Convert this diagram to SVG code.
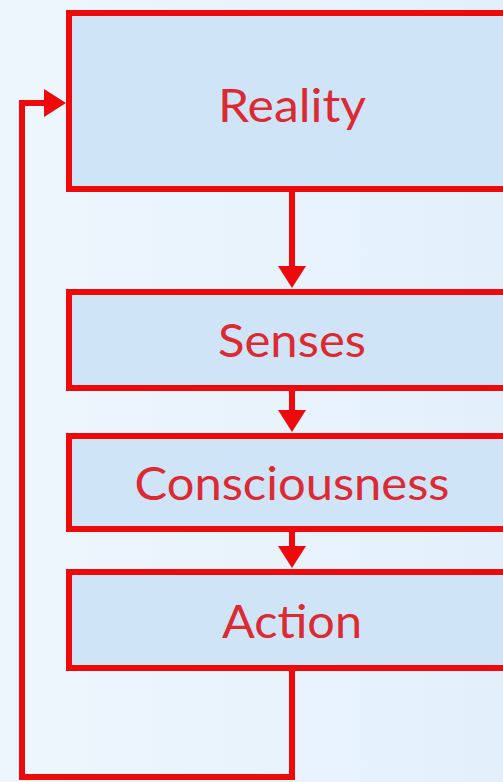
<svg xmlns="http://www.w3.org/2000/svg" width="503" height="782" viewBox="0 0 503 782">
  <style>
    .box { fill: #d0e4f7; stroke: #ee0a0a; stroke-width: 6; }
    .lbl { font-family: Lato, "Liberation Sans", Arial, sans-serif; font-size: 46px; fill: #dc2a33; text-anchor: middle; }
    .conn { fill: none; stroke: #ee0a0a; stroke-width: 6; stroke-linejoin: miter; }
  </style>
  <defs>
    <linearGradient id="bg" x1="0" y1="0" x2="1" y2="0">
      <stop offset="0" stop-color="#eef6fd"/>
      <stop offset="1" stop-color="#e3f0fb"/>
    </linearGradient>
    <marker id="ah" markerUnits="userSpaceOnUse" markerWidth="24" markerHeight="30" refX="0" refY="14" orient="auto" viewBox="0 0 24 30">
      <path d="M0,0 L22,14 L0,28 Z" fill="#ee0a0a"/>
    </marker>
  </defs>
  <rect x="0" y="0" width="503" height="782" fill="url(#bg)"/>

  <g id="reality">
    <rect class="box" x="69" y="13" width="460" height="176"/>
    <text class="lbl" x="292" y="122" textLength="148" lengthAdjust="spacingAndGlyphs">Reality</text>
  </g>
  <g id="senses">
    <rect class="box" x="69" y="292" width="460" height="96"/>
    <text class="lbl" x="292" y="357" textLength="148" lengthAdjust="spacingAndGlyphs">Senses</text>
  </g>
  <g id="consciousness">
    <rect class="box" x="69" y="436" width="460" height="93"/>
    <text class="lbl" x="292" y="500" textLength="315" lengthAdjust="spacingAndGlyphs">Consciousness</text>
  </g>
  <g id="action">
    <rect class="box" x="69" y="572" width="460" height="96"/>
    <text class="lbl" x="292" y="638" textLength="140" lengthAdjust="spacingAndGlyphs">Action</text>
  </g>

  <g id="connectors">
    <path class="conn" d="M292,192 L292,266" marker-end="url(#ah)"/>
    <path class="conn" d="M292,391 L292,410" marker-end="url(#ah)"/>
    <path class="conn" d="M292,532 L292,546" marker-end="url(#ah)"/>
    <path class="conn" d="M292,671 L292,777 L22,777 L22,103 L44,103" marker-end="url(#ah)"/>
  </g>
</svg>
